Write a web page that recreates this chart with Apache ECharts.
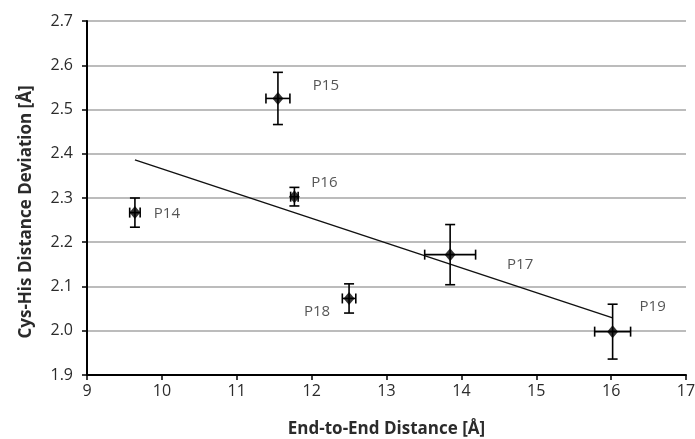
<!DOCTYPE html>
<html>
<head>
<meta charset="utf-8">
<script src="https://cdn.jsdelivr.net/npm/echarts@6/dist/echarts.min.js"></script>
<style>
  html, body { margin: 0; padding: 0; background: #fff; }
  #chart { width: 695px; height: 439px; }
</style>
</head>
<body>
<div id="chart"></div>
<script>
// Peptide names, mean distances and their standard deviations
var peptides = ['P14', 'P15', 'P16', 'P17', 'P18', 'P19'];
var endToEnd = [9.64, 11.55, 11.77, 13.85, 12.50, 16.02];
var endToEndErr = [0.07, 0.16, 0.05, 0.34, 0.09, 0.24];
var cysHis = [2.267, 2.525, 2.303, 2.172, 2.073, 1.998];
var cysHisErr = [0.033, 0.059, 0.021, 0.068, 0.033, 0.062];
var rSquaredText = 'R\u00b2 = 0.4278';
var rSquaredAt = [14.92, 2.348];

// Least-squares fit drawn across the range of the measured points
function linearFit(xs, ys) {
  var n = xs.length, mx = 0, my = 0, sxy = 0, sxx = 0;
  for (var i = 0; i < n; i++) { mx += xs[i]; my += ys[i]; }
  mx /= n; my /= n;
  for (var j = 0; j < n; j++) {
    sxy += (xs[j] - mx) * (ys[j] - my);
    sxx += (xs[j] - mx) * (xs[j] - mx);
  }
  var slope = sxy / sxx;
  return function (x) { return my + slope * (x - mx); };
}
var fit = linearFit(endToEnd, cysHis);
var xMin = Math.min.apply(null, endToEnd);
var xMax = Math.max.apply(null, endToEnd);
var trend = [[xMin, fit(xMin)], [xMax, fit(xMax)]];

// Pixel offsets of each peptide label's centre from its marker
var labelOffset = {
  P14: [32, 1], P15: [48, -13], P16: [30, -14],
  P17: [70, 10], P18: [-32, 13], P19: [40, -25]
};

var points = peptides.map(function (name, i) {
  return {
    name: name,
    value: [endToEnd[i], cysHis[i]],
    label: { offset: labelOffset[name] }
  };
});
var errData = peptides.map(function (name, i) {
  return [endToEnd[i], cysHis[i], endToEndErr[i], cysHisErr[i]];
});

var FONT = '"Open Sans", Lato, sans-serif';
var TEXT = '#2b2b2b';

var chart = echarts.init(document.getElementById('chart'));
chart.setOption({
  animation: false,
  grid: {
    left: 87, right: 9, top: 21, bottom: 64,
    containLabel: false, outerBoundsMode: 'none'
  },
  xAxis: {
    type: 'value', min: 9, max: 17, interval: 1,
    name: 'End-to-End Distance [\u00c5]',
    nameLocation: 'middle', nameGap: 46,
    nameTextStyle: { fontFamily: FONT, fontSize: 17, fontWeight: 'bold', color: TEXT },
    axisLine: { show: true, lineStyle: { color: '#000', width: 2 } },
    axisTick: { show: true, length: 5, inside: false, lineStyle: { color: '#000', width: 1.5 } },
    axisLabel: { fontFamily: FONT, fontSize: 16, color: TEXT, margin: 8 },
    splitLine: { show: false }
  },
  yAxis: {
    type: 'value', min: 1.9, max: 2.7, interval: 0.1,
    name: 'Cys-His Distance Deviation [\u00c5]',
    nameLocation: 'middle', nameGap: 52,
    nameTextStyle: {
      fontFamily: FONT, fontSize: 17, fontWeight: 'bold', color: TEXT,
      padding: [0, 28, 0, 0]
    },
    axisLine: { show: true, lineStyle: { color: '#000', width: 2 } },
    axisTick: { show: true, length: 5, lineStyle: { color: '#000', width: 1.5 } },
    axisLabel: {
      fontFamily: FONT, fontSize: 16, color: TEXT, margin: 14,
      formatter: function (v) { return v.toFixed(1); }
    },
    splitLine: { show: true, lineStyle: { color: '#a6a6a6', width: 1.5 } }
  },
  series: [
    {
      type: 'line',
      data: trend,
      symbol: 'none',
      lineStyle: { color: '#111', width: 1.5 },
      z: 2,
      markPoint: {
        symbol: 'none',
        data: [{ coord: rSquaredAt, value: 0 }],
        label: {
          show: true, formatter: rSquaredText,
          fontFamily: FONT, fontSize: 14.5, color: TEXT
        }
      }
    },
    {
      type: 'custom',
      data: errData,
      z: 3,
      renderItem: function (params, api) {
        var x = api.value(0), y = api.value(1), ex = api.value(2), ey = api.value(3);
        var top = api.coord([x, y + ey]);
        var bot = api.coord([x, y - ey]);
        var lft = api.coord([x - ex, y]);
        var rgt = api.coord([x + ex, y]);
        var cap = 5;
        var style = { stroke: '#000', lineWidth: 1.6 };
        var seg = function (x1, y1, x2, y2) {
          return { type: 'line', shape: { x1: x1, y1: y1, x2: x2, y2: y2 }, style: style };
        };
        return {
          type: 'group',
          children: [
            seg(top[0], top[1], bot[0], bot[1]),
            seg(top[0] - cap, top[1], top[0] + cap, top[1]),
            seg(bot[0] - cap, bot[1], bot[0] + cap, bot[1]),
            seg(lft[0], lft[1], rgt[0], rgt[1]),
            seg(lft[0], lft[1] - cap, lft[0], lft[1] + cap),
            seg(rgt[0], rgt[1] - cap, rgt[0], rgt[1] + cap)
          ]
        };
      }
    },
    {
      type: 'scatter',
      data: points,
      symbol: 'diamond',
      symbolSize: [11, 13],
      itemStyle: { color: '#000' },
      z: 4,
      label: {
        show: true, position: 'inside',
        formatter: '{b}',
        fontFamily: FONT, fontSize: 15, color: TEXT
      }
    }
  ]
});
</script>
</body>
</html>
